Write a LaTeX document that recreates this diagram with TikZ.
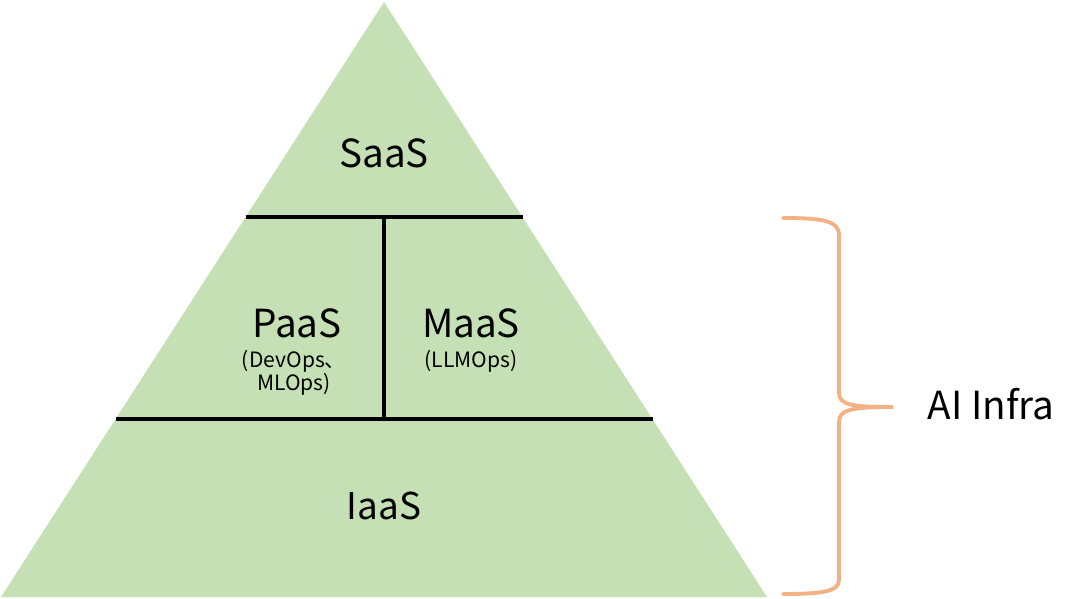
\documentclass[tikz,border=0pt]{standalone}
\usepackage{fontspec}
\setmainfont{Noto Sans CJK SC}
\usepackage{tikz}
\usetikzlibrary{positioning}
\definecolor{layergreen}{RGB}{197,224,180}
\definecolor{braceorange}{RGB}{244,177,131}
\tikzset{
  layer/.style={font=\fontsize{22}{22}\selectfont, anchor=base},
  sublayer/.style={font=\fontsize{12}{13}\selectfont, align=center, anchor=base},
  divider/.style={line width=2.2pt, black},
}

\begin{document}
\begin{tikzpicture}[x=0.02cm, y=-0.02cm]
  \useasboundingbox (0,0) rectangle (1080,599);
  % pyramid
  \coordinate (left) at (1,597);
  \coordinate (apex) at (384,2);
  \coordinate (right) at (767,597);
  \fill[layergreen] (left) -- (apex) -- (right) -- cycle;
  \draw[divider] (245.5,217) -- (522.5,217);
  \draw[divider] (115.5,419) -- (652.5,419);
  \draw[divider] (384,217) -- (384,419);
  % layers
  \node[layer] (saas) at (384,167) {SaaS};
  \node[layer] (paas) at (297,337) {PaaS};
  \node[sublayer] (paasops) at (294,390) {(DevOps、\\MLOps)};
  \node[layer] (maas) at (471,337) {MaaS};
  \node[sublayer] (maasops) at (471,367) {(LLMOps)};
  \node[layer, font=\fontsize{21}{21}\selectfont] (iaas) at (384,519) {IaaS};
  % brace
  \node[font=\fontsize{22}{22}\selectfont, anchor=base] (infra) at (991,419) {AI Infra};
  \coordinate (btop) at (783,218);
  \coordinate (btip) at (893,407);
  \coordinate (bbot) at (783,594);
  \draw[braceorange, line width=2.2pt, line cap=round]
    (btop) .. controls (820,218) and (839,220) .. (839,235)
    -- (839,392) .. controls (839,405) and (850,407) .. (btip)
    .. controls (850,407) and (839,410) .. (839,422)
    -- (839,580) .. controls (839,592) and (820,594) .. (bbot);
\end{tikzpicture}
\end{document}
